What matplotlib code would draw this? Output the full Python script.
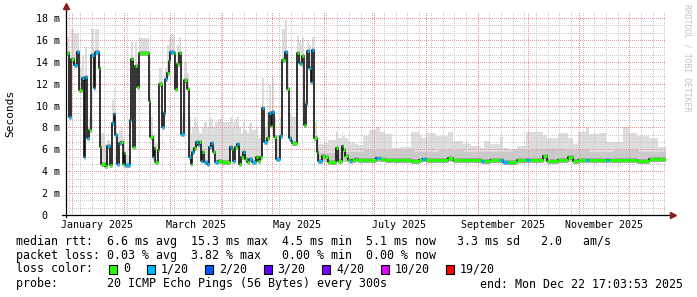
import numpy as np
import pandas as pd
import matplotlib
matplotlib.use('Agg')
import matplotlib.pyplot as plt
from matplotlib.patches import Rectangle

plt.rcParams['font.family'] = ['DejaVu Sans Mono']

# segment start, in days since 2025-01-01 (step data, each value holds until the next day)
seg_day = [-3.6, -1.6, -0.4, 1.4, 3.0, 4.4, 6.0, 7.0, 8.0, 9.0,
           10.0, 11.6, 13.0, 14.0, 16.0, 16.6, 17.6, 19.5, 21.0, 22.5,
           24.0, 25.0, 26.0, 27.0, 28.4, 29.5, 30.4, 31.2, 32.0, 35.0,
           35.6, 36.6, 37.5, 39.0, 40.0, 46.3, 46.9, 48.3, 49.1, 49.9,
           51.5, 52.3, 53.9, 54.9, 55.9, 56.9, 57.9, 58.9, 61.0, 61.9,
           62.9, 64.3, 65.5, 66.9, 68.9, 70.1, 71.1, 72.1, 73.1, 74.1,
           75.3, 76.1, 77.1, 78.1, 79.3, 80.7, 82.1, 83.1, 84.7, 85.7,
           87.5, 89.7, 94.7, 95.7, 96.7, 97.7, 98.7, 100.0, 101.0, 102.6,
           103.6, 105.0, 106.2, 107.6, 110.0, 111.2, 112.6, 114.0, 115.2, 116.6,
           118.0, 119.0, 120.0, 121.2, 122.0, 124.6, 126.0, 127.6, 128.6, 130.0,
           131.0, 132.0, 134.6, 136.0, 137.0, 138.0, 139.2, 140.0, 140.6, 142.0,
           143.2, 144.0, 144.8, 145.2, 146.5, 147.6, 149.6, 151.6, 153.6, 158.4,
           159.6, 161.6, 162.6, 163.6, 165.2, 166.6, 167.6, 169.6, 171.6, 174.6,
           178.0, 182.2, 184.8, 187.4, 192.0, 197.0, 203.0, 208.0, 210.0, 212.0,
           218.0, 225.0, 228.0, 234.0, 239.0, 245.0, 247.0, 250.4, 256.4, 258.0,
           261.0, 266.6, 272.0, 274.4, 282.4, 284.6, 291.0, 297.0, 300.0, 303.0,
           308.0, 310.0, 316.0, 320.0, 322.0, 330.0, 334.0, 338.5, 346.0, 351.0]

# median rtt (ms)
seg_med = [14.8, 9.0, 14.3, 13.7, 14.9, 11.4, 12.5, 5.3, 12.6, 7.0,
           7.8, 14.6, 11.6, 14.9, 13.4, 6.2, 4.7, 4.5, 6.3, 4.6,
           8.4, 9.2, 7.3, 4.7, 6.6, 6.7, 4.7, 5.7, 4.6, 8.7,
           14.3, 6.2, 13.6, 11.7, 14.8, 10.4, 7.1, 5.3, 6.1, 4.8,
           5.9, 12.0, 8.0, 9.3, 12.4, 13.0, 14.1, 14.9, 14.8, 11.5,
           13.8, 14.8, 7.4, 12.3, 11.5, 5.3, 4.7, 5.8, 6.1, 6.7,
           6.4, 6.7, 4.9, 5.8, 4.8, 4.7, 6.2, 6.6, 5.8, 4.8,
           4.9, 4.8, 6.2, 6.0, 4.9, 6.2, 6.5, 4.7, 5.3, 5.8,
           5.1, 4.8, 5.1, 4.8, 5.3, 4.9, 5.3, 9.8, 6.7, 7.0,
           9.3, 8.1, 9.4, 7.1, 5.1, 7.2, 14.2, 14.9, 11.5, 7.0,
           6.8, 6.6, 14.8, 13.9, 13.8, 14.5, 8.2, 10.1, 15.0, 13.4,
           12.2, 15.1, 13.2, 7.0, 5.8, 4.9, 5.4, 5.3, 4.8, 6.1,
           4.9, 6.3, 5.9, 5.4, 5.0, 4.9, 5.0, 5.1, 5.0, 5.0,
           5.0, 5.2, 5.15, 5.0, 5.05, 5.0, 4.95, 5.05, 5.15, 5.0,
           5.0, 5.2, 5.0, 5.0, 5.0, 4.9, 4.9, 5.0, 5.0, 4.8,
           4.8, 5.0, 5.0, 5.0, 5.35, 4.9, 5.0, 5.3, 4.9, 5.0,
           5.0, 5.0, 5.0, 5.0, 5.0, 5.0, 5.0, 4.9, 5.1, 5.1]

# highest ping of the smoke (ms)
seg_top = [16.3, 10.0, 17.0, 16.6, 16.6, 13.4, 14.5, 6.0, 15.4, 8.0,
           9.0, 17.0, 13.0, 17.0, 15.0, 7.5, 7.5, 6.5, 6.9, 6.0,
           10.5, 11.6, 8.5, 7.5, 7.8, 8.0, 6.5, 7.0, 5.5, 9.5,
           15.8, 7.0, 15.8, 14.0, 16.2, 11.0, 9.0, 7.0, 7.5, 6.5,
           9.3, 13.4, 9.5, 11.0, 13.4, 15.5, 16.2, 16.5, 16.3, 13.0,
           15.5, 16.3, 9.0, 14.0, 13.0, 9.0, 7.5, 8.0, 9.0, 8.5,
           8.0, 7.5, 7.5, 8.0, 8.5, 8.0, 9.0, 8.8, 8.0, 8.5,
           8.8, 8.5, 9.0, 8.0, 8.5, 8.8, 9.0, 8.0, 7.5, 8.5,
           7.8, 7.5, 8.4, 7.8, 8.0, 7.0, 7.0, 12.5, 8.0, 8.5,
           12.0, 9.5, 12.5, 9.0, 7.3, 9.0, 17.0, 17.8, 15.0, 9.3,
           9.0, 9.0, 16.4, 16.0, 15.7, 16.2, 10.5, 12.0, 16.0, 15.5,
           13.5, 16.3, 15.5, 8.5, 7.0, 6.5, 6.5, 6.6, 6.9, 7.6,
           7.0, 7.6, 7.2, 7.0, 6.8, 6.6, 6.6, 6.5, 6.4, 7.2,
           7.8, 8.0, 7.6, 7.4, 6.1, 6.2, 7.6, 7.3, 7.0, 7.5,
           7.2, 7.6, 6.8, 6.5, 6.3, 6.1, 6.8, 6.5, 7.1, 6.1,
           6.0, 6.3, 7.6, 7.6, 7.3, 7.0, 7.5, 7.0, 6.5, 7.6,
           8.0, 7.4, 7.5, 6.7, 6.7, 8.0, 7.5, 7.2, 7.0, 6.2]

# loss bucket of each segment (index into loss_labels)
seg_loss = [0, 1, 0, 1, 1, 0, 1, 1, 1, 1,
            0, 1, 1, 1, 0, 0, 0, 0, 1, 0,
            1, 1, 1, 1, 1, 0, 0, 0, 1, 1,
            0, 0, 0, 0, 0, 0, 0, 1, 0, 0,
            0, 0, 1, 1, 1, 0, 0, 1, 0, 0,
            0, 0, 1, 0, 0, 1, 0, 1, 0, 1,
            1, 0, 1, 0, 1, 1, 1, 1, 0, 1,
            0, 0, 1, 0, 1, 0, 1, 0, 0, 1,
            0, 0, 1, 1, 0, 0, 0, 1, 1, 0,
            1, 0, 1, 0, 1, 1, 0, 1, 0, 1,
            1, 0, 0, 1, 0, 0, 0, 1, 1, 1,
            1, 1, 1, 0, 0, 1, 0, 0, 0, 0,
            0, 0, 0, 0, 0, 1, 0, 0, 0, 0,
            0, 1, 0, 0, 0, 0, 0, 0, 1, 0,
            0, 0, 0, 0, 0, 1, 0, 0, 1, 1,
            0, 0, 1, 0, 0, 0, 0, 0, 0, 0,
            1, 0, 0, 1, 0, 0, 0, 0, 0, 0]

# denser part of the smoke in the quiet period
mid_day = [147.6, 160, 175, 190, 205, 220, 235, 250, 265, 280, 295, 310, 325, 340]
mid_top = [5.7, 5.8, 5.9, 5.9, 5.8, 5.9, 5.8, 5.8, 5.9, 6.0, 5.9, 5.8, 5.9, 5.8]

loss_labels = ['0', '1/20', '2/20', '3/20', '4/20', '10/20', '19/20']
loss_colors = ['#26ff00', '#00b8ff', '#0059ff', '#5e00ff', '#7e00ff', '#dd00ff', '#ff0000']

month_labels = ['January 2025', 'March 2025', 'May 2025', 'July 2025',
                'September 2025', 'November 2025']
y_major = [0, 2, 4, 6, 8, 10, 12, 14, 16, 18]

rtt_line = 'median rtt:  6.6 ms avg  15.3 ms max  4.5 ms min  5.1 ms now   3.3 ms sd   2.0   am/s'
loss_line = 'packet loss: 0.03 % avg  3.82 % max   0.00 % min  0.00 % now'
probe_line = 'probe:       20 ICMP Echo Pings (56 Bytes) every 300s'
end_line = 'end: Mon Dec 22 17:03:53 2025'

W, H = 697, 297
x0, x1 = -3.6, 355.9
ymax = 18.6

fig = plt.figure(figsize=(W / 100, H / 100), dpi=100)
ax = fig.add_axes([66 / W, (H - 215) / H, 600 / W, 203.5 / H])
ax.set_xlim(x0, x1)
ax.set_ylim(0, ymax)

base = pd.Timestamp('2025-01-01')
month_starts = [(pd.Timestamp(2025, m, 1) - base).days for m in range(1, 13)]
mondays = [(d - base).days for d in pd.date_range('2024-12-23', '2025-12-22', freq='W-MON')]

# grid (drawn above the smoke, like rrdtool), 1px on / 1px off
gkw = dict(lw=1.0, ls=(0, (0.72, 1.44)), zorder=3, antialiased=False)
for d in mondays:
    if x0 < d < x1 and d not in month_starts:
        ax.axvline(d, color='#c8c8c8', **gkw)
for v in np.arange(0, ymax, 2 / 3):
    if abs(v - round(v / 2) * 2) > 0.01:
        ax.axhline(v, color='#c8c8c8', **gkw)
for d in month_starts:
    ax.axvline(d, color='#e49494', **gkw)
for v in y_major[1:]:
    ax.axhline(v, color='#e49494', **gkw)

xs = np.array(seg_day + [x1])
med = np.array(seg_med + [seg_med[-1]])
top = np.array(seg_top + [seg_top[-1]])
ends = seg_day[1:] + [x1]

# smoke
ax.fill_between(xs, med - 0.15, top, step='post', color='#dddddd', lw=0, zorder=1)
mx = np.array(mid_day + [x1])
my = np.array(mid_top + [mid_top[-1]])
ax.fill_between(mx, 4.85, my, step='post', color='#cacaca', lw=0, zorder=2)
ax.hlines(seg_med, seg_day, ends, colors='#a6a6a6', lw=3.6, zorder=4)

# median line
ax.step(xs, med, where='post', color='#111111', lw=1.2, zorder=5)
ax.hlines(seg_med, seg_day, ends, colors=[loss_colors[i] for i in seg_loss],
          lw=2.2, zorder=6)

# axes
for s in ax.spines.values():
    s.set_visible(False)
ax.plot([-4 / 600, 1 + 5 / 600], [0, 0], color='black', lw=0.9,
        transform=ax.transAxes, clip_on=False, zorder=7)
ax.plot([0, 0], [-2 / 203.5, 1 + 3 / 203.5], color='black', lw=0.9,
        transform=ax.transAxes, clip_on=False, zorder=7)
ax.plot([1 + 7 / 600], [0], marker='>', ms=4, color='#8b1a1a', mec='#8b1a1a',
        transform=ax.transAxes, clip_on=False, zorder=8)
ax.plot([0], [1 + 5 / 203.5], marker='^', ms=4, color='#8b1a1a', mec='#8b1a1a',
        transform=ax.transAxes, clip_on=False, zorder=8)

ax.set_xticks([])
ax.set_yticks(y_major)
ax.set_yticklabels([('%d m' % v) if v else '0  ' for v in y_major])
ax.tick_params(axis='y', length=0, pad=4.3, labelsize=7.2)

for m, lab in zip(month_starts[::2], month_labels):
    ax.text(m + 15, -10 / 203.5, lab, transform=ax.get_xaxis_transform(),
            ha='center', va='center', fontsize=7.2)

fig.text(10 / W, 1 - 113 / H, 'Seconds', rotation=90, ha='center', va='center', fontsize=8)
fig.text(687 / W, 1 - 4 / H, 'RRDTOOL / TOBI OETIKER', rotation=270, ha='center',
         va='top', fontsize=5.9, color='#c4c4c4')

# legend block
fs = 8.4
cw = 7.0
fig.text(16 / W, 1 - 241 / H, rtt_line, ha='left', va='center', fontsize=fs)
fig.text(16 / W, 1 - 255 / H, loss_line, ha='left', va='center', fontsize=fs)
fig.text(16 / W, 1 - 269 / H, 'loss color:', ha='left', va='center', fontsize=fs)
bx = 109
for lab, col in zip(loss_labels, loss_colors):
    fig.add_artist(Rectangle((bx / W, 1 - 274 / H), 8 / W, 9 / H, transform=fig.transFigure,
                             facecolor=col, edgecolor='black', lw=0.8))
    fig.text((bx + 14) / W, 1 - 269 / H, lab, ha='left', va='center', fontsize=fs)
    bx += 14 + cw * len(lab) + 16.5
fig.text(16 / W, 1 - 284 / H, probe_line, ha='left', va='center', fontsize=fs)
fig.text(683 / W, 1 - 284 / H, end_line, ha='right', va='center', fontsize=fs)

fig.savefig('out.png', dpi=100)
